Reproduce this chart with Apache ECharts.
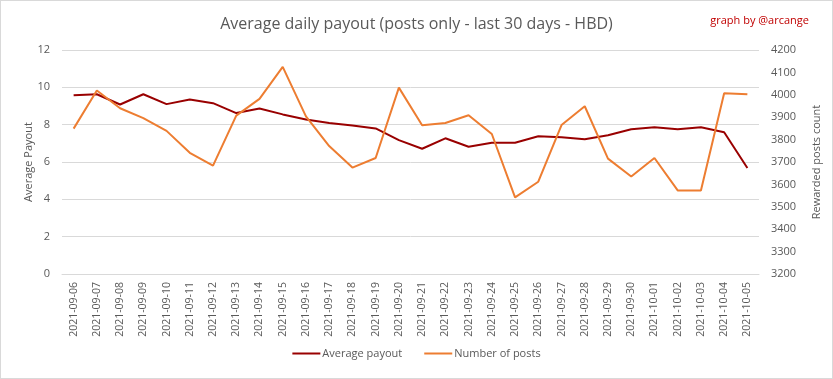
<!DOCTYPE html>
<html><head><meta charset="utf-8">
<script src="https://cdn.jsdelivr.net/npm/echarts@6/dist/echarts.min.js"></script>
<style>html,body{margin:0;padding:0;background:#fff}#c{width:833px;height:379px;box-sizing:border-box;border:1px solid #d9d9d9}</style>
</head><body><div id="c"></div>
<script>
const dates = ["2021-09-06","2021-09-07","2021-09-08","2021-09-09","2021-09-10","2021-09-11","2021-09-12","2021-09-13","2021-09-14","2021-09-15","2021-09-16","2021-09-17","2021-09-18","2021-09-19","2021-09-20","2021-09-21","2021-09-22","2021-09-23","2021-09-24","2021-09-25","2021-09-26","2021-09-27","2021-09-28","2021-09-29","2021-09-30","2021-10-01","2021-10-02","2021-10-03","2021-10-04","2021-10-05"];
const avgPayout = [9.58,9.63,9.08,9.63,9.1,9.35,9.15,8.62,8.87,8.55,8.28,8.09,7.96,7.8,7.17,6.71,7.27,6.82,7.03,7.03,7.38,7.33,7.22,7.43,7.75,7.86,7.75,7.86,7.59,5.68];
const numPosts = [3849,4019,3940,3896,3839,3741,3684,3907,3982,4125,3904,3771,3675,3718,4032,3864,3874,3909,3825,3542,3612,3865,3949,3715,3635,3718,3573,3573,4007,4002];
const font = "'Open Sans', 'Noto Sans', sans-serif";
const chart = echarts.init(document.getElementById('c'));
chart.setOption({
  animation:false,
  textStyle:{fontFamily:font},
  title:[{text:'Average daily payout (posts only - last 30 days - HBD)',left:'center',top:10,textStyle:{fontSize:16,fontWeight:'normal',color:'#595959',fontFamily:font}},
         {text:'graph by @arcange',right:18,top:9,textStyle:{fontSize:11,fontWeight:'normal',color:'#c00000',fontFamily:font}}],
  legend:{bottom:14,left:'center',itemWidth:28,itemHeight:2,itemGap:22,icon:'rect',textStyle:{fontSize:11,color:'#595959',padding:[0,0,0,-3]},
    data:['Average payout','Number of posts']},
  grid:{left:61,right:73,top:49,bottom:104},
  xAxis:{type:'category',data:dates,boundaryGap:true,
    axisLine:{lineStyle:{color:'#d9d9d9'}},axisTick:{show:false},
    axisLabel:{rotate:90,interval:0,fontSize:10.5,color:'#595959',margin:8}},
  yAxis:[{type:'value',min:0,max:12,interval:2,name:'Average Payout',nameLocation:'middle',nameGap:28,nameRotate:90,nameMoveOverlap:false,
      nameTextStyle:{fontSize:11,color:'#595959'},
      axisLabel:{fontSize:11,color:'#595959',margin:12},splitLine:{lineStyle:{color:'#d9d9d9'}},axisLine:{show:false},axisTick:{show:false}},
    {type:'value',min:3200,max:4200,interval:100,name:'Rewarded posts count',nameLocation:'middle',nameGap:52,nameRotate:90,
      nameTextStyle:{fontSize:11,color:'#595959'},
      axisLabel:{fontSize:11,color:'#595959',margin:12,formatter:function(v){return String(v);}},splitLine:{show:false},axisLine:{show:false},axisTick:{show:false}}],
  series:[{name:'Average payout',type:'line',data:avgPayout,yAxisIndex:0,symbol:'none',lineStyle:{color:'#990000',width:2},itemStyle:{color:'#990000'}},
    {name:'Number of posts',type:'line',data:numPosts,yAxisIndex:1,symbol:'none',lineStyle:{color:'#ed7d31',width:2},itemStyle:{color:'#ed7d31'}}]
});
</script></body></html>
